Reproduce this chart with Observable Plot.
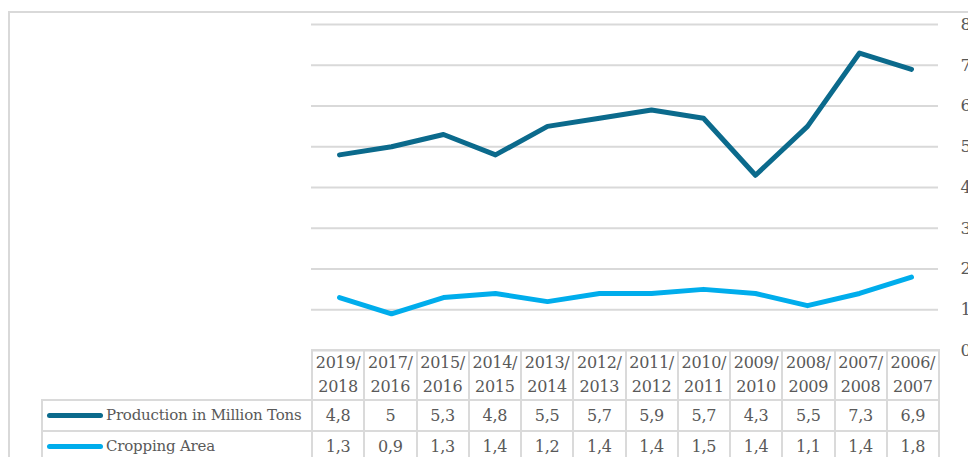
<!DOCTYPE html>
<html>
<head>
<meta charset="utf-8">
<script src="https://cdn.jsdelivr.net/npm/d3@7"></script>
<script src="https://cdn.jsdelivr.net/npm/@observablehq/plot@0.6"></script>
<style>
  html, body { margin: 0; padding: 0; background: #fff; }
  #wrap { position: relative; width: 968px; height: 457px; overflow: hidden; font-family: "DejaVu Serif", serif; color: #595959; }
  #frame { position: absolute; left: 8px; top: 11px; width: 1100px; height: 600px; border-left: 2px solid #d9d9d9; border-top: 2px solid #d9d9d9; box-sizing: border-box; }
  #chart { position: absolute; left: 0; top: 0; }
  table { position: absolute; border-collapse: collapse; table-layout: fixed; font-size: 16px; color: #595959; font-family: "DejaVu Serif", serif; letter-spacing: -0.3px; }
  td { border: 2px solid #dadada; padding: 0; text-align: center; white-space: nowrap; overflow: hidden; }
  tr.head td { height: 48px; line-height: 24px; }
  tr.row td { height: 29px; line-height: 29px; }
  td.blank { border-top: none; border-left: none; }
  td.leg { text-align: left; padding-left: 4px; font-size: 15px; letter-spacing: -0.2px; }
  .key { display: inline-block; width: 56px; height: 5px; border-radius: 3px; vertical-align: middle; margin-right: 3px; position: relative; top: -1px; }
</style>
</head>
<body>
<div id="wrap">
  <div id="frame"></div>
  <div id="chart"></div>
</div>
<script>
const seasons = ["2019/2018","2017/2016","2015/2016","2014/2015","2013/2014","2012/2013","2011/2012","2010/2011","2009/2010","2008/2009","2007/2008","2006/2007"];
const production = [4.8, 5, 5.3, 4.8, 5.5, 5.7, 5.9, 5.7, 4.3, 5.5, 7.3, 6.9];
const croppingArea = [1.3, 0.9, 1.3, 1.4, 1.2, 1.4, 1.4, 1.5, 1.4, 1.1, 1.4, 1.8];
const seriesNames = ["Production in Million Tons", "Cropping Area"];
const seriesColors = ["#0b6a8c", "#00adec"];
const yTicks = [0, 1, 2, 3, 4, 5, 6, 7, 8];

const seriesValues = [production, croppingArea];
const rows = [];
seriesNames.forEach((name, si) => {
  seasons.forEach((s, i) => rows.push({series: name, season: s, value: seriesValues[si][i]}));
});

const SERIF = "'DejaVu Serif', serif";
const W = 968, ML = 311, MR = 30;
const plot = Plot.plot({
  width: W,
  height: 351,
  marginLeft: ML,
  marginRight: MR,
  marginTop: 24,
  marginBottom: 1,
  style: {fontFamily: SERIF, fontSize: "17px", color: "#595959", background: "transparent", overflow: "visible"},
  x: {type: "point", domain: seasons, padding: 0.5, axis: null},
  y: {domain: [0, 8], ticks: yTicks, label: null},
  color: {domain: seriesNames, range: seriesColors},
  marks: [
    Plot.gridY(yTicks, {stroke: "#d9d9d9", strokeOpacity: 1, strokeWidth: 2}),
    Plot.axisY(yTicks, {anchor: "right", tickSize: 0, tickPadding: 22, label: null, fontSize: 17, textAnchor: "start"}),
    Plot.line(rows, {x: "season", y: "value", z: "series", stroke: "series", strokeWidth: 5, strokeLinecap: "round", strokeLinejoin: "round"})
  ]
});
document.getElementById("chart").appendChild(plot);

// Data table aligned with the x scale
const xs = plot.scale("x");
const step = (xs.range[1] - xs.range[0]) / seasons.length;
const legendLeft = 41;
const table = document.createElement("table");
table.style.left = legendLeft + "px";
table.style.top = "349px";
table.style.width = (ML - legendLeft + step * seasons.length) + "px";
const cg = document.createElement("colgroup");
const c0 = document.createElement("col"); c0.style.width = (ML - legendLeft) + "px"; cg.appendChild(c0);
seasons.forEach(() => { const c = document.createElement("col"); c.style.width = step + "px"; cg.appendChild(c); });
table.appendChild(cg);

const fmt = v => String(v).replace(".", ",");
const hr = document.createElement("tr"); hr.className = "head";
const blank = document.createElement("td"); blank.className = "blank"; hr.appendChild(blank);
seasons.forEach(s => {
  const td = document.createElement("td");
  const [a, b] = s.split("/");
  td.innerHTML = a + "/<br>" + b;
  hr.appendChild(td);
});
table.appendChild(hr);
seriesNames.forEach((name, si) => {
  const tr = document.createElement("tr"); tr.className = "row";
  const td0 = document.createElement("td"); td0.className = "leg";
  const key = document.createElement("span"); key.className = "key"; key.style.background = seriesColors[si];
  td0.appendChild(key);
  td0.appendChild(document.createTextNode(name));
  tr.appendChild(td0);
  seriesValues[si].forEach(v => { const td = document.createElement("td"); td.textContent = fmt(v); tr.appendChild(td); });
  table.appendChild(tr);
});
document.getElementById("wrap").appendChild(table);
</script>
</body>
</html>
